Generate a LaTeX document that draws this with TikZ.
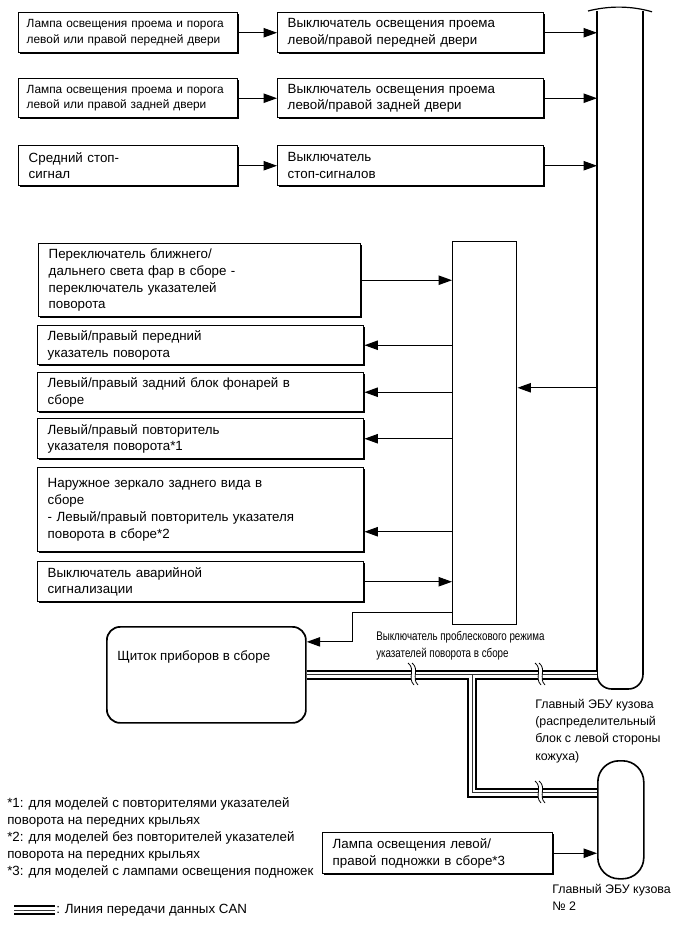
\documentclass[tikz,border=0pt]{standalone}
\usepackage{fontspec}
\setmainfont{Liberation Sans}
\newfontfamily\narrowf[FakeStretch=0.78]{Liberation Sans}
\usetikzlibrary{arrows.meta,shadows}
\newcommand\cutmark[2]{%
  \begin{scope}[shift={(#1,#2)}]
    \fill[white] (-5,-11) .. controls (3,-5) and (-6,4) .. (1,11) -- (5,11) .. controls (-2,4) and (7,-5) .. (-1,-11) -- cycle;
    \draw[line width=0.6pt] (-5,-11) .. controls (3,-5) and (-6,4) .. (1,11);
    \draw[line width=0.6pt] (-1,-11) .. controls (7,-5) and (-2,4) .. (5,11);
  \end{scope}}
\begin{document}
\begin{tikzpicture}[x=0.75pt,y=-0.75pt,
  box/.style={draw, line width=1.1pt, fill=white, rectangle, inner xsep=7.5pt, inner ysep=1pt,
    align=left, anchor=north west, font=\fontsize{10}{12.4}\selectfont,
    drop shadow={shadow xshift=0.8pt, shadow yshift=-0.8pt, fill=black, opacity=1}},
  small/.style={font=\fontsize{8.9}{11.4}\selectfont, inner xsep=6pt, text width=152.25pt},
  wA/.style={text width=149.25pt},
  wB/.style={text width=184.5pt},
  wG/.style={text width=229.5pt},
  arr/.style={line width=0.75pt, -{Triangle[length=10pt,width=7pt]}},
  lbl/.style={align=left, inner sep=0pt, font=\fontsize{9.3}{12.9}\selectfont},
  busA/.style={line width=7.4pt, line join=miter, black},
  busB/.style={line width=4.2pt, line join=miter, white},
  busC/.style={line width=0.7pt, line join=miter, black!80},
  eculine/.style={line width=1.2pt}
]
\useasboundingbox (0,0) rectangle (689,950);
\fill[white] (0,0) rectangle (689,950);

% top rows
\node[box, small, minimum height=30pt] (a) at (18,12) {Лампа освещения проема и порога\\левой или правой передней двери};
\node[box, wB, minimum height=30pt] (b) at (277,12) {Выключатель освещения проема\\левой/правой передней двери};
\node[box, small, minimum height=29.25pt] (c) at (18,78) {Лампа освещения проема и порога\\левой или правой задней двери};
\node[box, wB, minimum height=29.25pt] (d) at (277,78) {Выключатель освещения проема\\левой/правой задней двери};
\node[box, wA, minimum height=30pt] (e) at (18,145) {Средний стоп-\\сигнал};
\node[box, wB, minimum height=30pt] (f) at (277,145) {Выключатель\\стоп-сигналов};

% main ECU
\node[minimum width=34.5pt, minimum height=508.5pt, inner sep=0pt, outer sep=0pt, anchor=north west] (ecu) at (597,11) {};
\draw[eculine, rounded corners=11pt] (ecu.north west) -- (ecu.south west) -- (ecu.south east) -- (ecu.north east);
\draw[line width=0.9pt] ([xshift=-6.75pt]ecu.north west) .. controls ([xshift=9pt,yshift=4pt]ecu.north west) and ([xshift=-9pt,yshift=4pt]ecu.north east) .. ([xshift=6.75pt,yshift=-0.6pt]ecu.north east);

% flasher
\node[draw, line width=1.1pt, minimum width=48pt, minimum height=287.25pt, inner sep=0pt, anchor=north west] (fl) at (452,241) {};

% left column
\node[box, text width=226.5pt, minimum height=54.75pt] (g) at (38,243) {Переключатель ближнего/\\дальнего света фар в сборе -\\переключатель указателей\\поворота};
\node[box, wG, minimum height=29.25pt] (h) at (37,325) {Левый/правый передний\\указатель поворота};
\node[box, wG, minimum height=29.25pt] (i) at (37,372) {Левый/правый задний блок фонарей в\\сборе};
\node[box, wG, minimum height=30pt] (j) at (37,418) {Левый/правый повторитель\\указателя поворота*1};
\node[box, wG, minimum height=63pt, font=\fontsize{10}{12.8}\selectfont] (k) at (37,467) {Наружное зеркало заднего вида в\\сборе\\- Левый/правый повторитель указателя\\поворота в сборе*2};
\node[box, wG, minimum height=30pt] (l) at (37,561) {Выключатель аварийной\\сигнализации};

% combination meter
\node[draw, line width=1.3pt, rounded corners=10pt, minimum width=149.25pt, minimum height=72pt, inner sep=0pt, anchor=north west] (sh) at (106,626) {};
\node[anchor=west, inner sep=0pt, font=\fontsize{10}{12.4}\selectfont] (sht) at (117,657) {Щиток приборов в сборе};

% ECU No.2
\node[draw, line width=1.2pt, rounded corners=16pt, minimum width=34.5pt, minimum height=88.5pt, inner sep=0pt, anchor=north west] (ecu2) at (597,760) {};

% step light box
\node[box, text width=157.5pt, minimum height=30.75pt] (m) at (322,832) {Лампа освещения левой/\\правой подножки в сборе*3};

% arrows
\draw[arr] (a.east) -- (b.west);
\draw[arr] (c.east) -- (d.west);
\draw[arr] (e.east) -- (f.west);
\draw[arr] (b.east) -- (b.east -| ecu.west);
\draw[arr] (d.east) -- (d.east -| ecu.west);
\draw[arr] (f.east) -- (f.east -| ecu.west);
\draw[arr] (g.east) -- (g.east -| fl.west);
\draw[arr] (h.east -| fl.west) -- (h.east);
\draw[arr] (i.east -| fl.west) -- (i.east);
\draw[arr] (j.east -| fl.west) -- (j.east);
\draw[arr] ([yshift=-16.5pt]k.east -| fl.west) -- ([yshift=-16.5pt]k.east);
\draw[arr] (l.east) -- (l.east -| fl.west);
\draw[arr] ([yshift=34.1pt]fl.east -| ecu.west) -- ([yshift=34.1pt]fl.east);
\draw[arr] ([yshift=9.75pt]fl.south west) -- ++(-100,0) |- ([yshift=24.75pt]sh.east);
\draw[arr] (m.east) -- (m.east -| ecu2.west);

% CAN bus
\coordinate (jn) at (472,674);
\coordinate (lg1) at (14,910);
\coordinate (lg2) at (55,910);
\foreach \s in {busA,busB,busC}{
  \draw[\s] (sh.east) -- (sh.east -| ecu.west);
  \draw[\s] (jn) |- ([yshift=20.25pt]ecu2.west);
  \draw[\s] (lg1) -- (lg2);
}
\cutmark{413}{674}
\cutmark{540}{674}
\cutmark{540}{792}

% labels
\node[lbl, anchor=north west, font=\narrowf\fontsize{9.4}{12.75}\selectfont] (fll) at (376,631) {Выключатель проблескового режима\\указателей поворота в сборе};
\node[lbl, anchor=north west] (ecul) at (535,699) {Главный ЭБУ кузова\\(распределительный\\блок с левой стороны\\кожуха)};
\node[lbl, anchor=north west] (ecu2l) at (552,884) {Главный ЭБУ кузова\\№ 2};
\node[lbl, anchor=north west, font=\fontsize{10}{12.9}\selectfont] (notes) at (7,797) {*1: для моделей с повторителями указателей\\поворота на передних крыльях\\*2: для моделей без повторителей указателей\\поворота на передних крыльях\\*3: для моделей с лампами освещения подножек};
\node[lbl, anchor=west, font=\fontsize{10}{12.9}\selectfont] (legt) at (56,910) {: Линия передачи данных CAN};
\end{tikzpicture}
\end{document}
